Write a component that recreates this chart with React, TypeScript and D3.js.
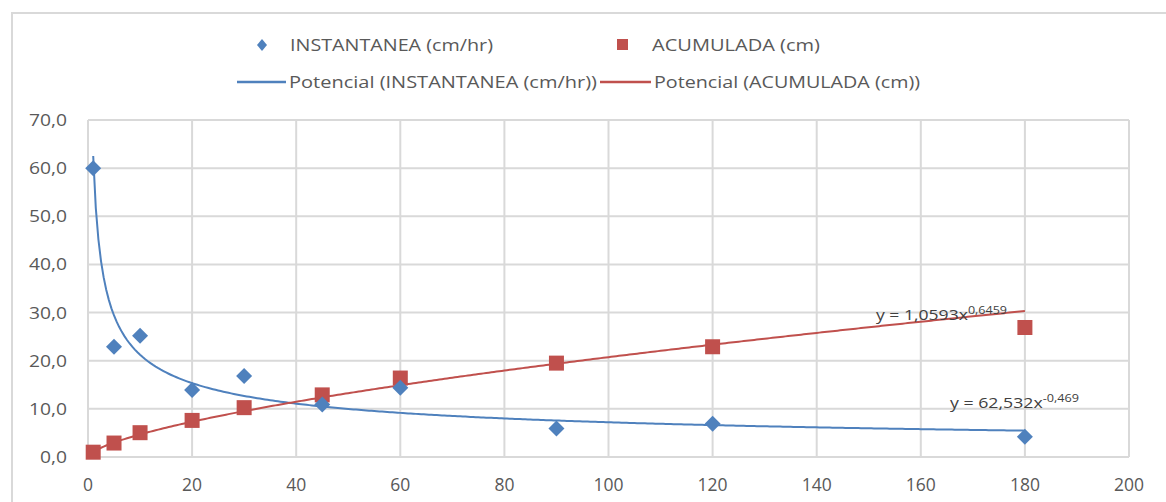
import React from "react";
import * as d3 from "d3";

const times = [1, 5, 10, 20, 30, 45, 60, 90, 120, 180];
const instantanea = [60, 22.9, 25.2, 13.9, 16.8, 10.9, 14.4, 5.9, 6.9, 4.2];
const acumulada = [1.0, 2.9, 5.05, 7.6, 10.25, 12.9, 16.4, 19.5, 22.9, 26.9];
const xTicks = [0, 20, 40, 60, 80, 100, 120, 140, 160, 180, 200];
const yTicks = [0, 10, 20, 30, 40, 50, 60, 70];
const fitInst = { a: 62.532, b: -0.469 };
const fitAcum = { a: 1.0593, b: 0.6459 };

const W = 1166;
const H = 502;
const BLUE = "#4f81bd";
const RED = "#c0504d";
const GRID = "#d9d9d9";
const TXT = "#595959";
const FONT = "'Open Sans', sans-serif";

export default function App() {
  const x = d3.scaleLinear().domain([0, 200]).range([88, 1129]);
  const y = d3.scaleLinear().domain([0, 70]).range([457, 120]);

  const sampleX = d3.range(1, 180.01, 0.5);
  const instPath =
    d3
      .line<number>()
      .x((d) => x(d))
      .y((d) => y(fitInst.a * Math.pow(d, fitInst.b)))(sampleX) || "";
  const acumPath =
    d3
      .line<number>()
      .x((d) => x(d))
      .y((d) => y(fitAcum.a * Math.pow(d, fitAcum.b)))(sampleX) || "";

  const fmt = (v: number) => v.toFixed(1).replace(".", ",");

  return (
    <svg
      width={W}
      height={H}
      style={{ position: "absolute", left: 0, top: 0, background: "#fff" }}
      fontFamily={FONT}
    >
      <rect x={0} y={0} width={W} height={H} fill="#fff" />
      <path d={`M12,${H + 5} V13 H${W + 5}`} fill="none" stroke="#d9d9d9" strokeWidth={2} />

      {yTicks.map((t) => (
        <line key={"gy" + t} x1={x(0)} x2={x(200)} y1={y(t)} y2={y(t)} stroke={GRID} strokeWidth={2} />
      ))}
      {xTicks.map((t) => (
        <line key={"gx" + t} x1={x(t)} x2={x(t)} y1={y(0)} y2={y(70)} stroke={GRID} strokeWidth={2} />
      ))}

      {yTicks.map((t) => {
        const s = fmt(t);
        return (
          <text
            key={"ty" + t}
            x={67}
            y={y(t) + 6}
            textAnchor="end"
            fontSize={16.5}
            fill={TXT}
            textLength={s.length === 3 ? 27 : 38}
            lengthAdjust="spacingAndGlyphs"
          >
            {s}
          </text>
        );
      })}
      {xTicks.map((t) => (
        <text key={"tx" + t} x={x(t)} y={491} textAnchor="middle" fontSize={17.5} fill={TXT}>
          {t}
        </text>
      ))}

      <path d={instPath} fill="none" stroke={BLUE} strokeWidth={2} />
      <path d={acumPath} fill="none" stroke={RED} strokeWidth={2} />

      {times.map((t, i) => (
        <rect
          key={"a" + i}
          x={x(t) - 7.5}
          y={y(acumulada[i]) - 7.5}
          width={15}
          height={15}
          fill={RED}
        />
      ))}
      {times.map((t, i) => {
        const cx = x(t);
        const cy = y(instantanea[i]);
        const r = 8;
        return (
          <path
            key={"i" + i}
            d={`M${cx},${cy - r} L${cx + r},${cy} L${cx},${cy + r} L${cx - r},${cy} Z`}
            fill={BLUE}
          />
        );
      })}

      <text x={876} y={320} fontSize={14} fill="#404040" textLength={131} lengthAdjust="spacingAndGlyphs">
        y = 1,0593x<tspan dy={-6} fontSize={10}>0,6459</tspan>
      </text>
      <text x={950} y={408} fontSize={14} fill="#404040" textLength={129} lengthAdjust="spacingAndGlyphs">
        y = 62,532x<tspan dy={-6} fontSize={10}>-0,469</tspan>
      </text>

      <path d="M262,39 L267,45 L262,51 L257,45 Z" fill={BLUE} />
      <text x={290} y={51} fontSize={16} fill={TXT} textLength={203} lengthAdjust="spacingAndGlyphs">INSTANTANEA (cm/hr)</text>
      <rect x={617} y={39} width={11} height={11} fill={RED} />
      <text x={652} y={51} fontSize={16} fill={TXT} textLength={168} lengthAdjust="spacingAndGlyphs">ACUMULADA (cm)</text>

      <line x1={237} x2={286} y1={82} y2={82} stroke={BLUE} strokeWidth={2.5} />
      <text x={289} y={88} fontSize={16} fill={TXT} textLength={308} lengthAdjust="spacingAndGlyphs">Potencial (INSTANTANEA (cm/hr))</text>
      <line x1={600} x2={651} y1={82} y2={82} stroke={RED} strokeWidth={2.5} />
      <text x={654} y={88} fontSize={16} fill={TXT} textLength={266} lengthAdjust="spacingAndGlyphs">Potencial (ACUMULADA (cm))</text>
    </svg>
  );
}
